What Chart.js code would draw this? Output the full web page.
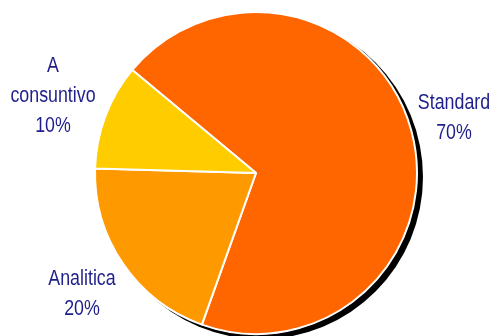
<!DOCTYPE html>
<html>
<head>
<meta charset="utf-8">
<script src="https://cdn.jsdelivr.net/npm/chart.js@4"></script>
<style>
  html, body { margin: 0; padding: 0; background: #fff; }
  #wrap { width: 494px; height: 336px; }
</style>
</head>
<body>
<div id="wrap"><canvas id="pie"></canvas></div>
<script>
// categories + slice sizes (labels show rounded %)
const LABELS = ['Standard', 'Analitica', 'A consuntivo'];
const SHARES = [69.4, 20.0, 10.6];
const PCT_TEXT = ['70%', '20%', '10%'];
const COLORS = ['#ff6600', '#ff9900', '#ffcc00'];
const TEXT_COLOR = '#1f1f8c';

// label text lines + where they sit (centre x, first baseline y)
const LABEL_LINES = [['Standard'], ['Analitica'], ['A', 'consuntivo']];
const LABEL_POS = [[454, 109], [82, 285], [53, 72]];

// black drop shadow behind the pie
const shadowPlugin = {
  id: 'shadow',
  beforeDatasetsDraw(chart) {
    const arc = chart.getDatasetMeta(0).data[0];
    if (!arc) return;
    const ctx = chart.ctx;
    ctx.save();
    ctx.fillStyle = '#000';
    ctx.beginPath();
    ctx.arc(arc.x + 5, arc.y + 4, arc.outerRadius + 1, 0, Math.PI * 2);
    ctx.fill();
    ctx.restore();
  }
};

// outside labels
const labelPlugin = {
  id: 'outLabels',
  afterDatasetsDraw(chart) {
    const ctx = chart.ctx;
    ctx.save();
    ctx.fillStyle = TEXT_COLOR;
    ctx.font = '22px "Liberation Sans", Arial, sans-serif';
    ctx.textAlign = 'center';
    ctx.textBaseline = 'alphabetic';
    LABEL_LINES.forEach((lines, i) => {
      const [x, y] = LABEL_POS[i];
      lines.concat(PCT_TEXT[i]).forEach((t, j) => {
        ctx.save();
        ctx.translate(x, y + j * 30);
        ctx.scale(0.81, 1);
        ctx.fillText(t, 0, 0);
        ctx.restore();
      });
    });
    ctx.restore();
  }
};

new Chart(document.getElementById('pie'), {
  type: 'pie',
  data: {
    labels: LABELS,
    datasets: [{
      data: SHARES,
      backgroundColor: COLORS,
      borderColor: '#fff',
      borderWidth: 2
    }]
  },
  options: {
    responsive: true,
    maintainAspectRatio: false,
    animation: false,
    rotation: -50.2,
    layout: { padding: { left: 94, right: 76, top: 10, bottom: 0 } },
    plugins: {
      legend: { display: false },
      tooltip: { enabled: false }
    }
  },
  plugins: [shadowPlugin, labelPlugin]
});
</script>
</body>
</html>
